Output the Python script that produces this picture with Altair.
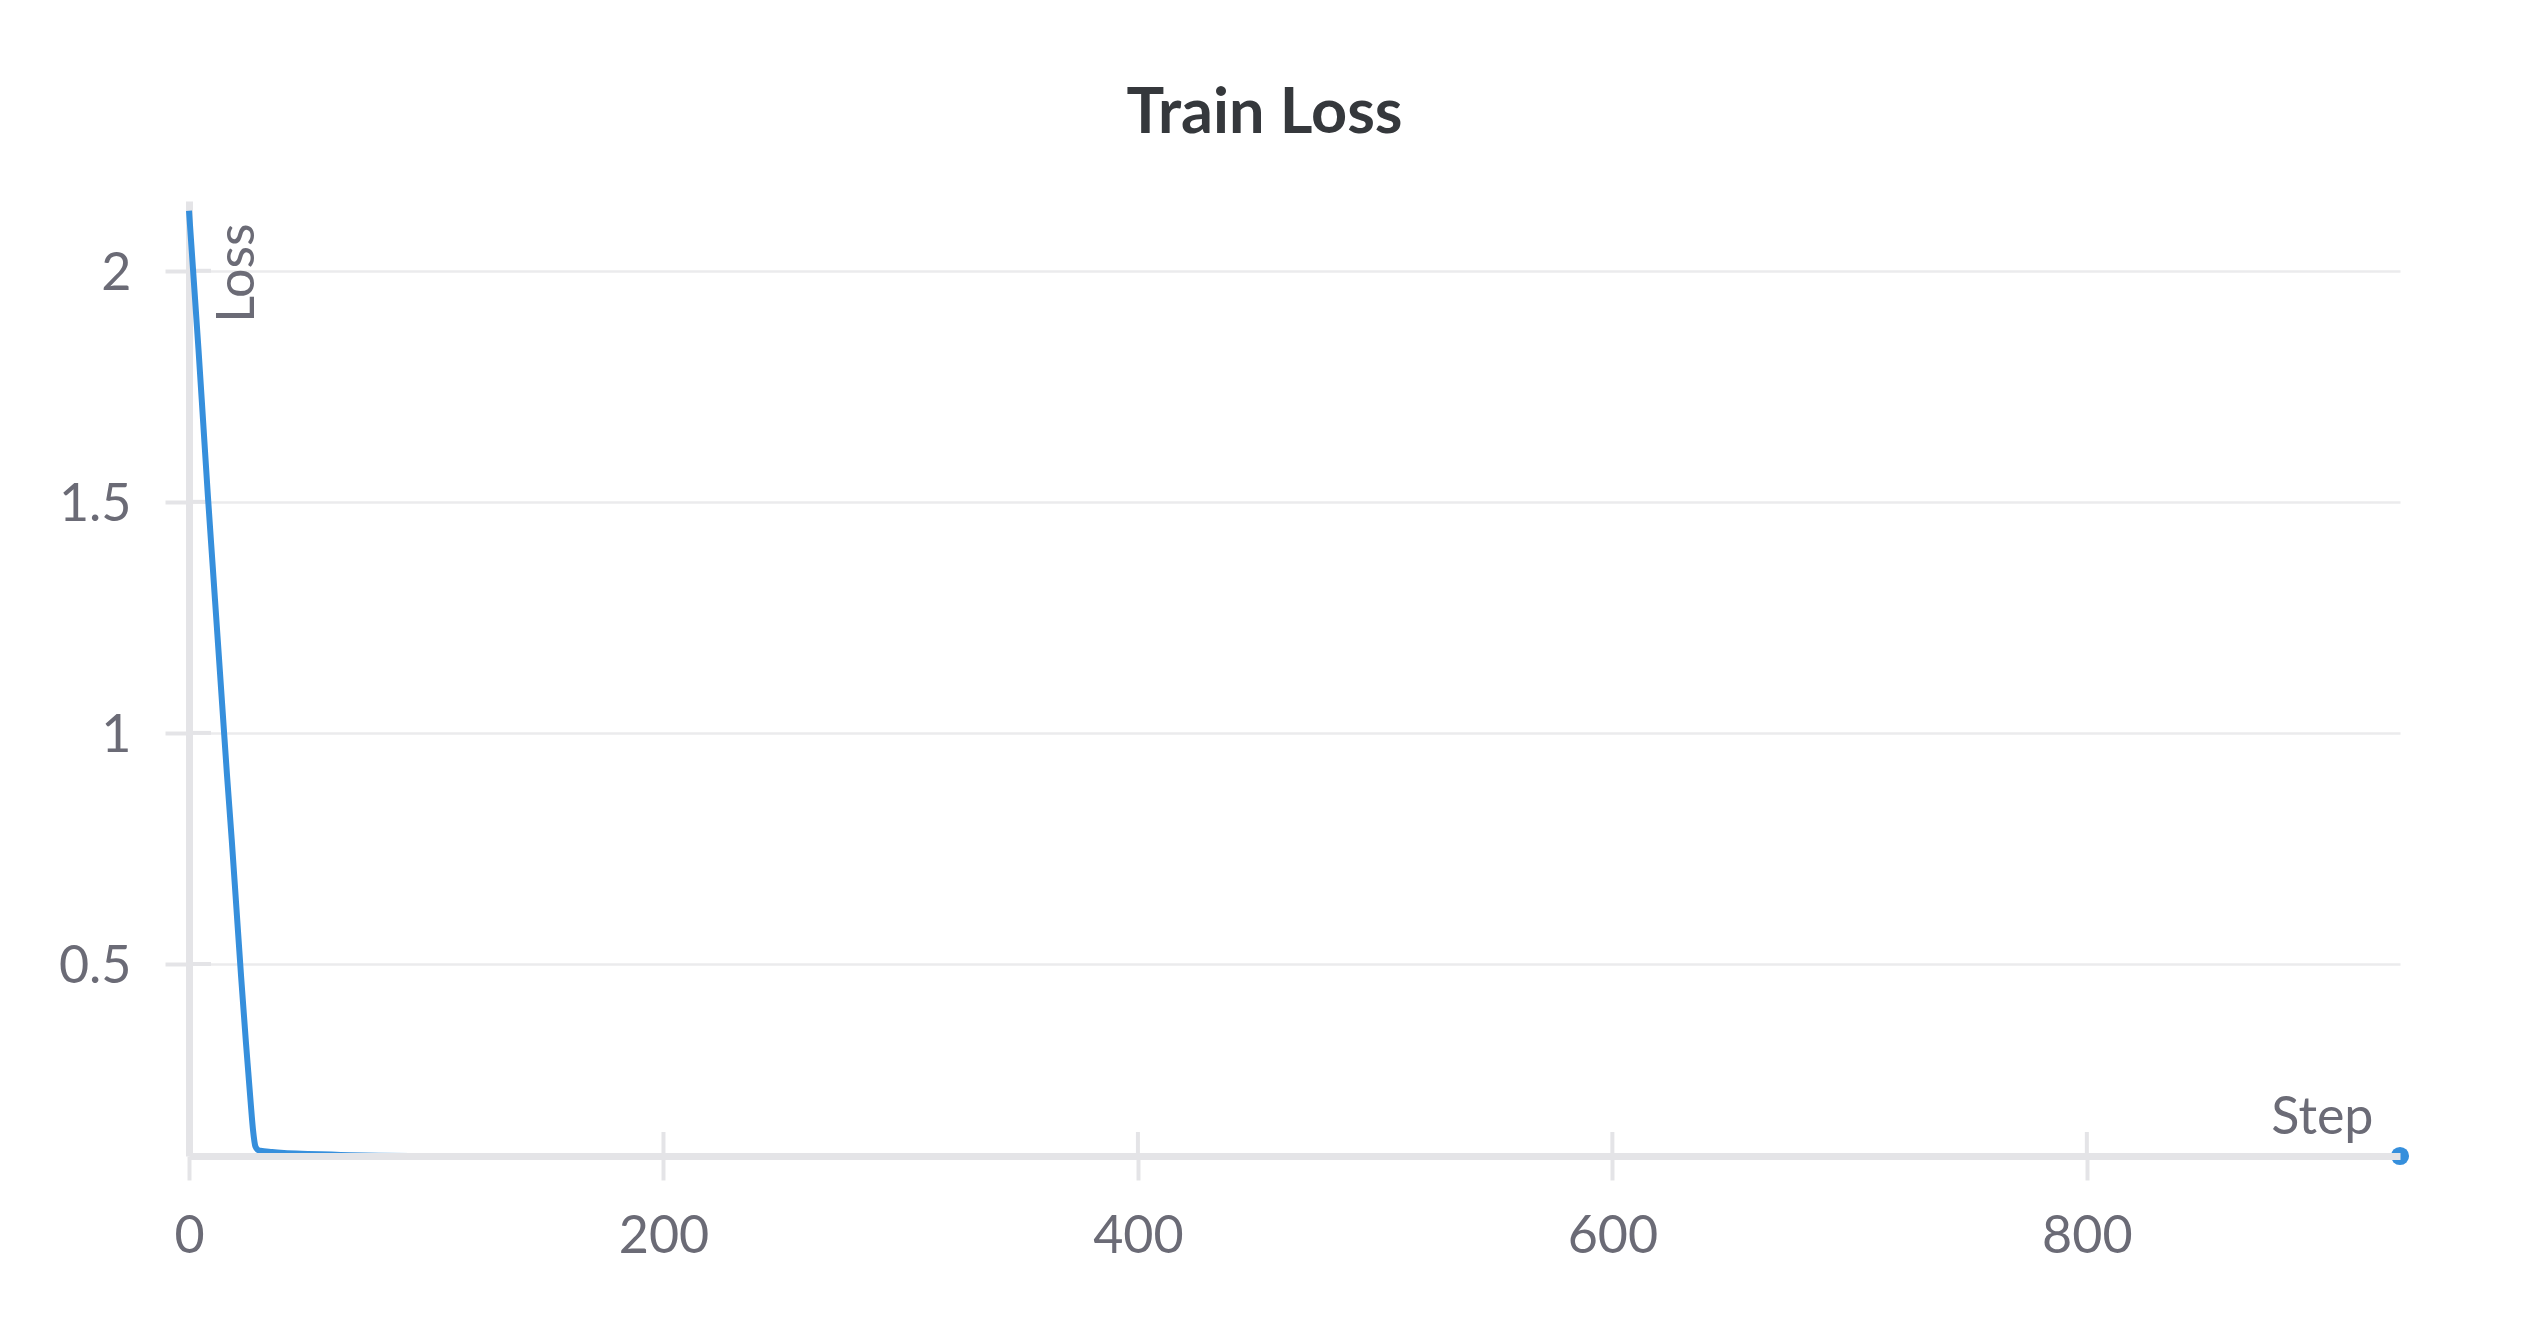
import altair as alt
import pandas as pd

steps = [0, 2, 4, 6, 8, 10, 12, 14, 16, 18, 20, 22, 24, 25, 26, 27, 28, 29, 30, 35, 40,
         50, 60, 68, 80, 100, 150, 200, 300, 400, 500, 600, 700, 800, 900, 932]
loss = [2.13, 1.98, 1.83, 1.67, 1.51, 1.36, 1.21, 1.06, 0.91, 0.77, 0.62, 0.47, 0.33,
        0.265, 0.20, 0.14, 0.105, 0.098, 0.096, 0.093, 0.091, 0.089, 0.0875, 0.0862,
        0.0852, 0.0846, 0.0845, 0.0845, 0.0845, 0.0845, 0.0845, 0.0845, 0.0845, 0.0845,
        0.0845, 0.0845]
x_ticks = [0, 200, 400, 600, 800]
y_ticks = [0.5, 1, 1.5, 2]

W, H = 2211, 955
GRAY = "#e4e4e7"
LABEL = "#6b6b76"
FONT = "Lato"
LINE = "#368fdc"

df = pd.DataFrame({"Step": steps, "Loss": loss})
last = df.tail(1)
xt = pd.DataFrame({"t": x_ticks})
yt = pd.DataFrame({"t": y_ticks})

xscale = alt.Scale(domain=[0, 932], nice=False, zero=False)
yscale = alt.Scale(domain=[0.0845, 2.151], nice=False, zero=False)

xaxis = alt.Axis(values=x_ticks, format="d", grid=False, domainColor=GRAY, domainWidth=7,
                 tickColor=GRAY, tickWidth=4, tickSize=24, labelPadding=31, labelFlush=False,
                 labelFont=FONT, labelFontSize=52, labelColor=LABEL,
                 title="Step", titleFont=FONT, titleFontSize=52, titleFontWeight="normal",
                 titleColor=LABEL, titleX=2184, titleY=-23, titleAlign="right",
                 titleBaseline="alphabetic", titleAngle=0, zindex=1)
yaxis = alt.Axis(values=y_ticks, format="~g", grid=True, gridColor="#ebebed", gridWidth=2.5,
                 domainColor=GRAY, domainWidth=7, tickColor=GRAY, tickWidth=4, tickSize=24,
                 labelPadding=34, labelFlush=False, labelOffset=3,
                 labelFont=FONT, labelFontSize=52, labelColor=LABEL,
                 title="Loss", titleFont=FONT, titleFontSize=52, titleFontWeight="normal",
                 titleColor=LABEL, titleX=64, titleY=22, titleAngle=270, titleAlign="right",
                 titleBaseline="alphabetic")

xtick_in = alt.Chart(xt).mark_rule(color=GRAY, strokeWidth=4).encode(
    x=alt.X("t:Q", scale=xscale, axis=xaxis),
    y=alt.value(H), y2=alt.value(H - 24))
ytick_in = alt.Chart(yt).mark_rule(color=GRAY, strokeWidth=4).encode(
    y=alt.Y("t:Q", scale=yscale, axis=yaxis),
    x=alt.value(0), x2=alt.value(22))

line = alt.Chart(df).mark_line(color=LINE, strokeWidth=6, interpolate="monotone").encode(
    x=alt.X("Step:Q", scale=xscale, axis=xaxis),
    y=alt.Y("Loss:Q", scale=yscale, axis=yaxis))
dot = alt.Chart(last).mark_circle(color=LINE, size=330, opacity=1).encode(
    x=alt.X("Step:Q", scale=xscale, axis=xaxis),
    y=alt.Y("Loss:Q", scale=yscale, axis=yaxis))

chart = alt.layer(xtick_in, ytick_in, line, dot).properties(
    width=W, height=H,
    autosize="none",
    background="white",
    padding={"left": 181, "top": 193, "right": 110, "bottom": 150},
    title=alt.TitleParams("Train Loss", font=FONT, fontSize=63, fontWeight="bold",
                          color="#35383c", anchor="middle", frame="group", dx=-30,
                          baseline="alphabetic", offset=3),
).configure_view(stroke=None)

chart.save("out.html", embed_options={"renderer": "svg", "actions": False})
